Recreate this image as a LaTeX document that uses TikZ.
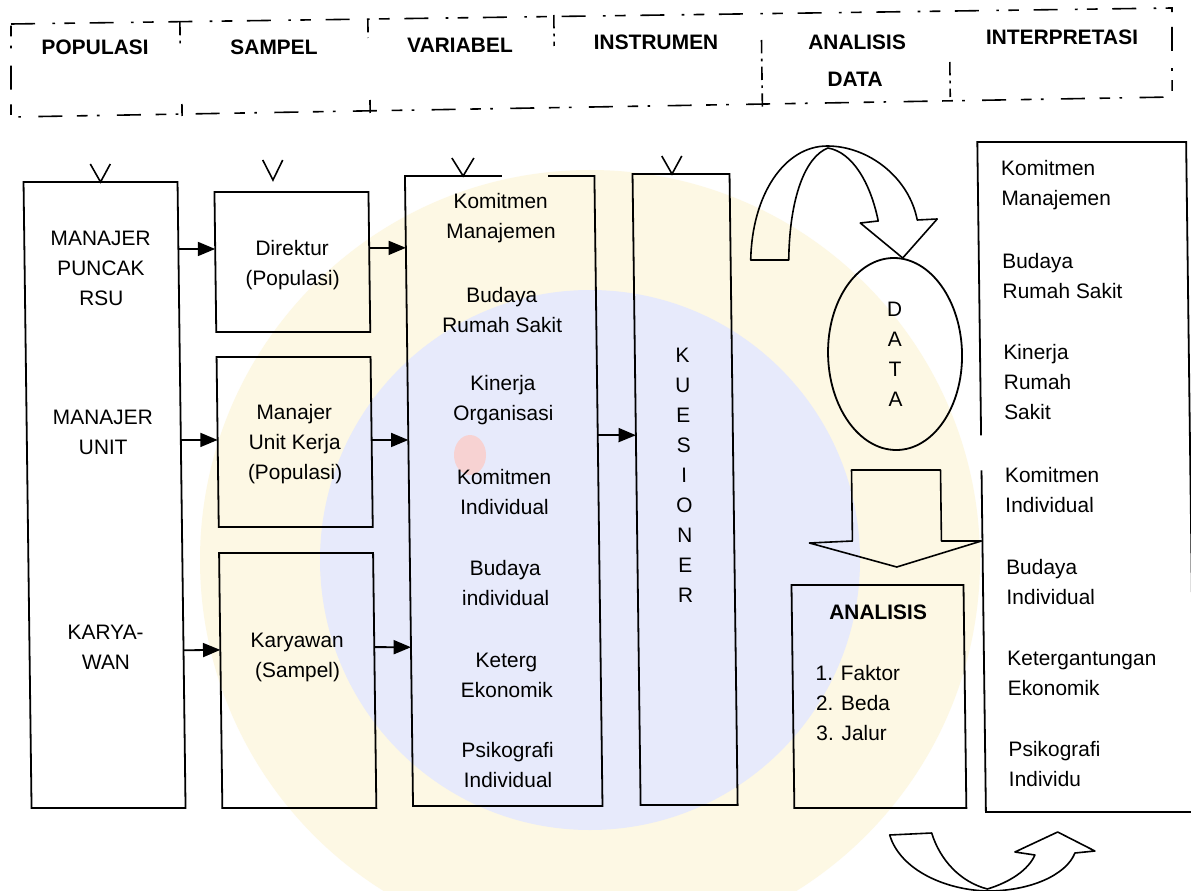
\documentclass[tikz,border=0pt]{standalone}
\usepackage{fontspec}
\setmainfont{Liberation Sans}
\usetikzlibrary{arrows.meta,shapes.geometric,calc}
\definecolor{sealyellow}{RGB}{253,248,228}
\definecolor{sealblue}{RGB}{231,234,251}
\definecolor{sealpink}{RGB}{247,210,210}
\begin{document}
\begin{tikzpicture}[x=0.75pt,y=-0.75pt,line width=1.35pt,
  box/.style={draw,rectangle,inner sep=0pt,outer sep=0pt,anchor=north west},
  lbl/.style={font=\fontsize{15.7}{22.5}\selectfont,align=center,inner sep=0pt},
  hdr/.style={font=\fontsize{15.7}{22.5}\selectfont\bfseries,inner sep=0pt},
  item/.style={lbl,align=left,anchor=west},
  feed/.style={-{Triangle[length=13pt,width=10.5pt]}},
  vmark/.style={line width=1.2pt},
  hline/.style={line width=1.2pt,dash pattern=on 18pt off 13pt on 2pt off 7pt on 8pt off 11pt},
  hsep/.style={line width=1.2pt,dash pattern=on 10pt off 4pt on 2pt off 4pt},
  blockarrow/.style={line width=1.2pt,line join=round}]
\useasboundingbox (0,0) rectangle (1191,891);
\fill[white] (0,0) rectangle (1191,891);
% faint seal behind the chart
\fill[sealyellow] (590,560) circle[radius=390];
\fill[sealblue] (590,560) circle[radius=270];
\fill[sealpink] (470,455) ellipse[x radius=16,y radius=20];

\begin{scope}[xslant=-0.0128,transform shape]
% ---- header strip ----
\draw[hline] (10.7,24) -- (1171.9,8) -- (1170.8,97) -- (9.5,117) -- cycle;
\draw[hsep] (179.6,22) -- (179.6,48);
\draw[hsep] (180.6,104) -- (180.6,116);
\draw[hsep] (367.6,19) -- (367.6,38);
\draw[hsep] (368.7,100) -- (368.7,113);
\draw[hsep] (553.6,15) -- (553.6,46);
\draw[hsep] (761,40) -- (761,110);
\draw[hsep] (949,62) -- (949,97);
\node[hdr] (hpop) at (94.5,47) {POPULASI};
\node[hdr] (hsam) at (273.4,47) {SAMPEL};
\node[hdr] (hvar) at (459.4,45) {VARIABEL};
\node[hdr] (hins) at (655.5,42) {INSTRUMEN};
\node[hdr] (hana) at (856.5,42) {ANALISIS};
\node[hdr] (hdat) at (854,79) {DATA};
\node[hdr] (hint) at (1061.5,37) {INTERPRETASI};

% ---- population ----
\node[box,minimum width=115.5pt,minimum height=469.5pt] (pop) at (21.2,182) {};
\node[lbl] (tpuncak) at (97.5,268) {MANAJER\\PUNCAK\\RSU};
\node[lbl] (tunit) at (97.5,432) {MANAJER\\UNIT};
\node[lbl] (tkary) at (97.5,647) {KARYA-\\WAN};

% ---- sample ----
\node[box,minimum width=115.5pt,minimum height=105pt] (dir) at (212,192) {};
\node[box,minimum width=115.5pt,minimum height=127.5pt] (mgr) at (212,357) {};
\node[box,minimum width=115.5pt,minimum height=191.25pt] (kar) at (212,553) {};
\node[lbl] (tdir) at (289,265) {Direktur\\(Populasi)};
\node[lbl] (tmgr) at (289,444) {Manajer\\Unit Kerja\\(Populasi)};
\node[lbl] (tkar) at (289,657) {Karyawan\\(Sampel)};

% ---- variables ----
\node[box,draw=none,minimum width=142.1pt,minimum height=472.5pt] (var) at (402.7,176) {};
\draw ($(var.north west)!0.755!(var.north east)$) -- (var.north east) -- (var.south east)
  -- (var.south west) -- (var.north west) -- ($(var.north west)!0.512!(var.north east)$);
\node[lbl] (v1) at (498,218) {Komitmen\\Manajemen};
\node[lbl] (v2) at (498,310) {Budaya\\Rumah Sakit};
\node[lbl] (v3) at (498,400) {Kinerja\\Organisasi};
\node[lbl] (v4) at (498,492) {Komitmen\\Individual};
\node[lbl] (v5) at (498,583) {Budaya\\individual};
\node[lbl] (v6) at (498,675) {Keterg\\Ekonomik};
\node[lbl] (v7) at (498,765) {Psikografi\\Individual};

% ---- instrument ----
\node[box,minimum width=72.75pt,minimum height=473.25pt] (kue) at (630.3,174) {};
\node[lbl] (kuetxt) at (678,475) {K\\U\\E\\S\\I\\O\\N\\E\\R};

% ---- markers under the header ----
\draw[vmark] ($(pop.north)+(-10,-18)$) -- (pop.north) -- ($(pop.north)+(10,-18)$);
\coordinate (vdir) at ($(dir.north west)!0.381!(dir.north east)+(0,-12)$);
\draw[vmark] ($(vdir)+(-10,-20)$) -- (vdir) -- ($(vdir)+(10,-20)$);
\coordinate (vvar) at ($(var.north west)!0.307!(var.north east)$);
\draw[vmark] ($(vvar)+(-11,-18)$) -- (vvar) -- ($(vvar)+(11,-18)$);
\coordinate (vkue) at ($(kue.north west)!0.407!(kue.north east)$);
\draw[vmark] ($(vkue)+(-10,-18)$) -- (vkue) -- ($(vkue)+(10,-18)$);

% ---- flow arrows ----
\draw[feed] ($(pop.north east)!0.107!(pop.south east)$) -- ($(dir.north west)!0.407!(dir.south west)$);
\draw[feed] ($(pop.north east)!0.412!(pop.south east)$) -- ($(mgr.north west)!0.488!(mgr.south west)$);
\draw[feed] ($(pop.north east)!0.748!(pop.south east)$) -- ($(kar.north west)!0.38!(kar.south west)$);
\draw[feed] ($(dir.north east)!0.4!(dir.south east)$) -- ($(var.north west)!0.114!(var.south west)$);
\draw[feed] ($(mgr.north east)!0.488!(mgr.south east)$) -- ($(var.north west)!0.419!(var.south west)$);
\draw[feed] ($(kar.north east)!0.369!(kar.south east)$) -- ($(var.north west)!0.748!(var.south west)$);
\draw[feed] ($(var.north east)!0.411!(var.south east)$) -- ($(kue.north west)!0.414!(kue.south west)$);

% ---- data ----
\node[draw,ellipse,lbl,minimum width=100.5pt,minimum height=144pt] (data) at (890.5,354) {D\\A\\T\\A};
% curved arrow from the questionnaire into the data
\draw[blockarrow] (747.4,260) .. controls (749.4,195) and (782.4,146) .. (825.4,146)
  .. controls (867,146) and (907,178) .. (914.4,220)
  -- (934.4,219) -- (899.4,258) -- (857.4,223) -- (875.4,221)
  .. controls (868,182) and (850,152) .. (826,148)
  .. controls (803,157) and (787,198) .. (785.4,260) -- cycle;
% block arrow from the data down to the analysis
\draw[blockarrow] (845.5,470) -- (934.5,470) -- (934.5,541) -- (974.5,541) -- (889.5,567)
  -- (802.5,543) -- (845.5,541) -- cycle;

% ---- analysis ----
\node[box,minimum width=129pt,minimum height=167.25pt] (ana) at (784,585) {};
\node[hdr] (tana) at (870.2,612) {ANALISIS};
\node[item] (tlist) at (806,703) {1. Faktor\\2. Beda\\3. Jalur};

% ---- interpretation ----
\node[box,draw=none,minimum width=156.6pt,minimum height=502.5pt] (interp) at (975.5,142) {};
\draw ($(interp.north west)!0.438!(interp.south west)$) -- (interp.north west) -- (interp.north east)
  -- (interp.south east) -- (interp.south west) -- ($(interp.north west)!0.490!(interp.south west)$);
\node[item] (i1) at (998,185) {Komitmen\\Manajemen};
\node[item] (i2) at (998,276) {Budaya\\Rumah Sakit};
\node[item] (i3) at (998,382) {Kinerja\\Rumah\\Sakit};
\node[item] (i4) at (998,490) {Komitmen\\Individual};
\node[item] (i5) at (998,582) {Budaya\\Individual};
\node[item] (i6) at (998,673) {Ketergantungan\\Ekonomik};
\node[item] (i7) at (998,764) {Psikografi\\Individu};

% curved feedback arrow under the analysis
\draw[blockarrow] (879,835) .. controls (889,870) and (934,890) .. (976,891)
  .. controls (1019,891) and (1055,875) .. (1064,853)
  -- (1084,851) -- (1047,832) -- (1004,852) -- (1024,855)
  .. controls (1017,870) and (999,882) .. (976,889)
  .. controls (949,882) and (929,860) .. (921,833) -- cycle;
\end{scope}
\end{tikzpicture}
\end{document}
